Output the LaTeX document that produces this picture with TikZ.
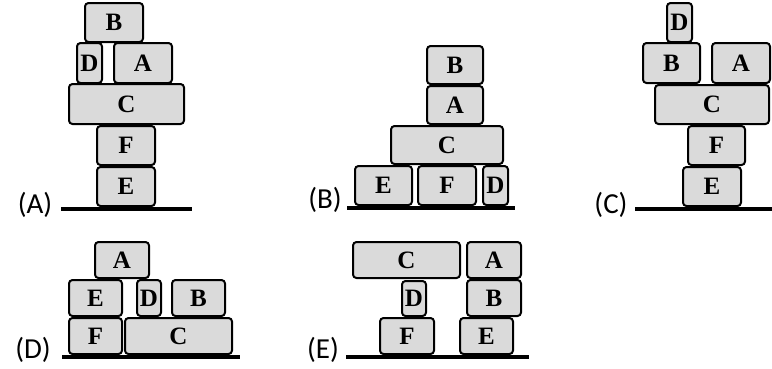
\documentclass[tikz,border=0pt]{standalone}
\usepackage{fontspec}
\setmainfont{Liberation Serif}
\newfontfamily\lblfont{Carlito}
\definecolor{blockgray}{RGB}{218,218,218}
\tikzset{
  block/.style={draw=black, fill=blockgray, line width=2pt, rounded corners=3.5pt},
  letter/.style={font=\fontsize{25}{25}\selectfont\bfseries},
  ground/.style={line width=3.4pt},
  caselabel/.style={font=\lblfont\fontsize{29}{29}\selectfont}
}
\begin{document}
\begin{tikzpicture}[x=1pt, y=-1pt]
  \useasboundingbox (0,0) rectangle (772,368);
  % panel (A)
  \draw[block] (85,3) rectangle (143,42) node[midway, letter] (aB) {B};
  \draw[block] (77,43) rectangle (102,83) node[midway, letter] (aD) {D};
  \draw[block] (114,43) rectangle (172,83) node[midway, letter] (aA) {A};
  \draw[block] (69,84) rectangle (184,124) node[midway, letter] (aC) {C};
  \draw[block] (97,126) rectangle (155,165) node[midway, letter] (aF) {F};
  \draw[block] (97,167) rectangle (155,206) node[midway, letter] (aE) {E};
  \draw[ground] (61,209) coordinate (ga1) -- (192,209) coordinate (ga2);
  \node[caselabel] (labA) at (35,205) {(A)};
  % panel (B)
  \draw[block] (427,46) rectangle (483,84) node[midway, letter] (bB) {B};
  \draw[block] (427,86) rectangle (483,124) node[midway, letter] (bA) {A};
  \draw[block] (391,126) rectangle (503,164) node[midway, letter] (bC) {C};
  \draw[block] (355,166) rectangle (412,205) node[midway, letter] (bE) {E};
  \draw[block] (418,166) rectangle (476,205) node[midway, letter] (bF) {F};
  \draw[block] (483,166) rectangle (508,205) node[midway, letter] (bD) {D};
  \draw[ground] (347,208) coordinate (gb1) -- (515,208) coordinate (gb2);
  \node[caselabel] (labB) at (325,200) {(B)};
  % panel (C)
  \draw[block] (667,3) rectangle (692,42) node[midway, letter] (cD) {D};
  \draw[block] (643,43) rectangle (700,83) node[midway, letter] (cB) {B};
  \draw[block] (712,43) rectangle (770,83) node[midway, letter] (cA) {A};
  \draw[block] (655,85) rectangle (769,124) node[midway, letter] (cC) {C};
  \draw[block] (688,126) rectangle (745,165) node[midway, letter] (cF) {F};
  \draw[block] (683,167) rectangle (741,206) node[midway, letter] (cE) {E};
  \draw[ground] (635,209) coordinate (gc1) -- (772,209) coordinate (gc2);
  \node[caselabel] (labC) at (611,205) {(C)};
  % panel (D)
  \draw[block] (95,242) rectangle (149,278) node[midway, letter] (dA) {A};
  \draw[block] (69,280) rectangle (122,316) node[midway, letter] (dE) {E};
  \draw[block] (137,280) rectangle (161,316) node[midway, letter] (dD) {D};
  \draw[block] (172,280) rectangle (225,316) node[midway, letter] (dB) {B};
  \draw[block] (69,318) rectangle (122,354) node[midway, letter] (dF) {F};
  \draw[block] (125,318) rectangle (232,354) node[midway, letter] (dC) {C};
  \draw[ground] (62,357) coordinate (gd1) -- (240,357) coordinate (gd2);
  \node[caselabel] (labD) at (33,350) {(D)};
  % panel (E)
  \draw[block] (353,242) rectangle (460,278) node[midway, letter] (eC) {C};
  \draw[block] (467,242) rectangle (521,278) node[midway, letter] (eA) {A};
  \draw[block] (402,281) rectangle (426,316) node[midway, letter] (eD) {D};
  \draw[block] (467,280) rectangle (521,316) node[midway, letter] (eB) {B};
  \draw[block] (380,318) rectangle (434,354) node[midway, letter] (eF) {F};
  \draw[block] (460,318) rectangle (513,354) node[midway, letter] (eE) {E};
  \draw[ground] (346,357) coordinate (ge1) -- (529,357) coordinate (ge2);
  \node[caselabel] (labE) at (323,350) {(E)};
\end{tikzpicture}
\end{document}
